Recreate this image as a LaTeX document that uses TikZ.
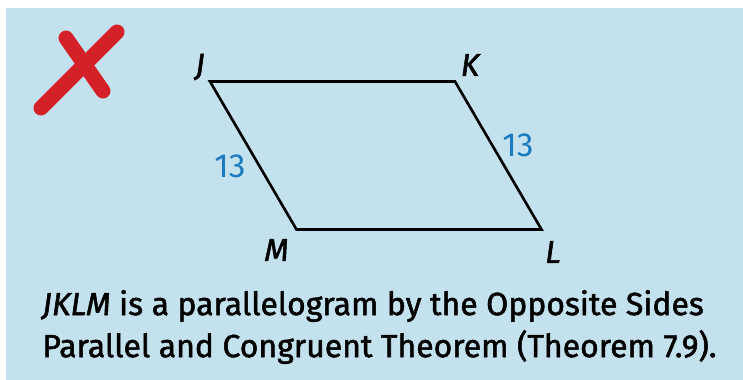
\documentclass[tikz,border=0pt]{standalone}
\usepackage{fontspec}
\setmainfont{Fira Sans}
\newfontfamily\notefont{Fira Sans}[FakeBold=1.6]
\definecolor{panelside}{HTML}{C4E2EE}
\definecolor{panelmid}{HTML}{E8F6F6}
\definecolor{markred}{HTML}{D42027}
\definecolor{sideblue}{HTML}{1A7BBF}
\begin{document}
\begin{tikzpicture}[
    vlabel/.style={black, font=\notefont\fontsize{18}{21}\selectfont\itshape, inner sep=0pt},
    slabel/.style={sideblue, font=\fontsize{19}{22}\selectfont, inner sep=0pt},
    note/.style={black, font=\notefont\fontsize{18.2}{21}\selectfont, anchor=west, inner sep=0pt}
  ]
            \useasboundingbox (0.00,0.00) rectangle (14.86,-7.60);
            \shade[left color=panelside, middle color=panelmid, right color=panelside] (0.12,-0.18) rectangle (14.86,-7.60);
            % the red mark
            \draw[draw=markred, line width=0.30cm, line cap=round] (0.82,-2.16) -- (2.34,-0.64);
            \draw[draw=markred, line width=0.30cm, line cap=round] (1.32,-0.76) -- (2.06,-1.82);
            % parallelogram
            \coordinate (J) at (4.20,-1.63);
            \coordinate (K) at (9.10,-1.63);
            \coordinate (L) at (10.83,-4.59);
            \coordinate (M) at (5.93,-4.59);
            \draw[draw=black, line width=1.5pt, line join=miter] (J) -- (K) -- (L) -- (M) -- cycle;
            \node[vlabel] (jlab) at (4.00,-1.34) {J};
            \node[vlabel] (klab) at (9.40,-1.30) {K};
            \node[vlabel] (llab) at (11.06,-5.04) {L};
            \node[vlabel] (mlab) at (5.53,-5.00) {M};
            \node[slabel] (jm) at (4.60,-3.33) {13};
            \node[slabel] (kl) at (10.36,-2.90) {13};
            % the note under it
            \node[note] (line1) at (0.84,-6.12) {\textit{JKLM} is a parallelogram by the Opposite Sides};
            \node[note] (line2) at (0.84,-6.94) {Parallel and Congruent Theorem (Theorem 7.9).};
        \end{tikzpicture}
\end{document}
